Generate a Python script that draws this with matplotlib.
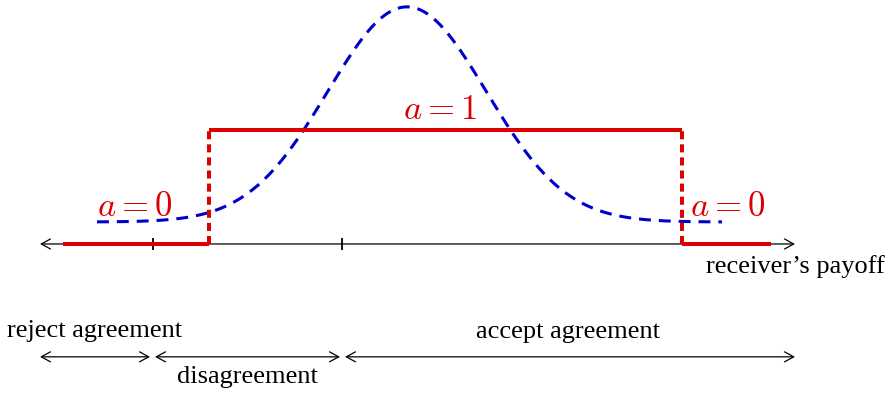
import numpy as np
import matplotlib.pyplot as plt

plt.rcParams['mathtext.fontset'] = 'cm'
plt.rcParams['font.family'] = ['Liberation Serif', 'DejaVu Serif']

# axis and thresholds (payoff units)
axis_span = [0.40, 7.95]
ticks = [1.53, 3.42]
step_x = [0.63, 2.09, 6.82, 7.71]   # red action profile breakpoints
action = [0, 1, 0]                 # a on each piece
# belief density (dashed blue)
curve_x = [0.97, 7.22]
curve_mu, curve_sd = 4.07, 0.793
curve_base, curve_peak = 0.193, 2.08

regions = ['reject agreement', 'disagreement', 'accept agreement']
region_edges = [(0.40, 1.50), (1.55, 3.40), (3.45, 7.95)]

red = '#dd0000'
blue = '#0000cc'
arrow = '<->,head_length=0.55,head_width=0.3'

fig = plt.figure(figsize=(8.88, 3.94), dpi=100)
ax = fig.add_axes([0, 0, 1, 1])
ax.set_xlim(0, 8.88)
ax.set_ylim(-1.316, 2.140)
ax.axis('off')

# main axis
ax.annotate('', xy=(axis_span[1], 0), xytext=(axis_span[0], 0),
            arrowprops=dict(arrowstyle=arrow, lw=0.9, color='black',
                            shrinkA=0, shrinkB=0, mutation_scale=12))
ax.vlines(ticks, -0.05, 0.05, color='black', lw=1.3)

# density curve
xs = np.linspace(curve_x[0], curve_x[1], 400)
ys = curve_base + (curve_peak - curve_base) * np.exp(-(xs - curve_mu) ** 2 / (2 * curve_sd ** 2))
ax.plot(xs, ys, color=blue, lw=2.2, dashes=(3.9, 2.6), zorder=3)

# action profile
for i, a in enumerate(action):
    ax.plot([step_x[i], step_x[i + 1]], [a, a], color=red, lw=2.9, solid_capstyle='butt', zorder=4)
for x in step_x[1:3]:
    ax.plot([x, x], [0, 1], color=red, lw=2.9, dashes=(2.0, 1.25), zorder=4)

ax.text(1.345, 0.32, r'$a = 0$', color=red, fontsize=25, ha='center', va='center')
ax.text(4.40, 1.17, r'$a = 1$', color=red, fontsize=25, ha='center', va='center')
ax.text(7.28, 0.32, r'$a = 0$', color=red, fontsize=25, ha='center', va='center')

ax.text(7.955, -0.195, "receiver\u2019s payoff", fontsize=19, ha='center', va='center')

# region brackets
ybr = -0.99
for (x0, x1) in region_edges:
    ax.annotate('', xy=(x1, ybr), xytext=(x0, ybr),
                arrowprops=dict(arrowstyle=arrow, lw=0.9, color='black',
                                shrinkA=0, shrinkB=0, mutation_scale=12))
ax.text(0.95, -0.76, regions[0], fontsize=19, ha='center', va='center')
ax.text(2.475, -1.17, regions[1], fontsize=19, ha='center', va='center')
ax.text(5.685, -0.775, regions[2], fontsize=19, ha='center', va='center')

fig.savefig('out.png', dpi=100)
